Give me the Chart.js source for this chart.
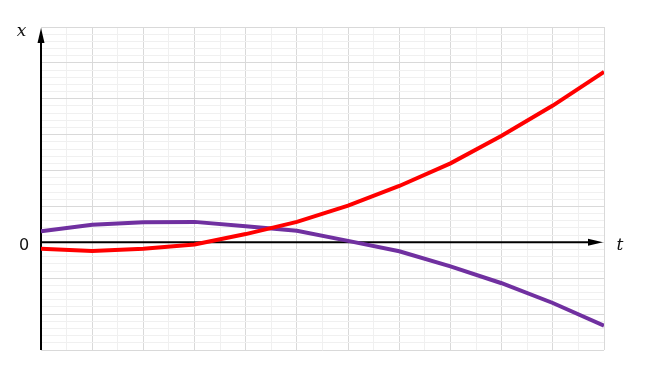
<!DOCTYPE html>
<html>
<head>
<meta charset="utf-8">
<script src="https://cdn.jsdelivr.net/npm/chart.js@4"></script>
<style>
  html, body { margin: 0; padding: 0; background: #fff; }
  #wrap { width: 654px; height: 390px; }
</style>
</head>
<body>
<div id="wrap"><canvas id="chart" width="654" height="390"></canvas></div>
<script>
// time steps (x axis) and the two curves
const tValues = [0, 1, 2, 3, 4, 5, 6, 7, 8, 9, 10, 11];
const redValues = [-0.18, -0.24, -0.18, -0.06, 0.23, 0.57, 1.02, 1.57, 2.2, 2.97, 3.81, 4.75];
const purpleValues = [0.31, 0.49, 0.56, 0.57, 0.45, 0.32, 0.04, -0.25, -0.67, -1.14, -1.69, -2.32];

const xMin = 0, xMax = 11, xStep = 0.5;
const yMin = -3, yMax = 6, yStep = 0.2;

const isMajor = v => Math.abs(v - Math.round(v)) < 1e-6;
const gridColor = ctx => isMajor(ctx.tick.value) ? '#d9d9d9' : '#f0f0f0';

const toPoints = ys => tValues.map((t, i) => ({ x: t, y: ys[i] }));

// axes with arrows + labels, drawn under the curves
const axesPlugin = {
  id: 'axes',
  beforeDatasetsDraw(chart) {
    const { ctx, scales: { x, y }, chartArea } = chart;
    const x0 = x.getPixelForValue(0);
    const y0 = y.getPixelForValue(0);
    const xEnd = x.getPixelForValue(xMax);
    const yTop = y.getPixelForValue(yMax);

    ctx.save();
    ctx.strokeStyle = '#000';
    ctx.fillStyle = '#000';
    ctx.lineWidth = 2;

    // vertical axis
    ctx.beginPath();
    ctx.moveTo(x0, chartArea.bottom);
    ctx.lineTo(x0, yTop + 10);
    ctx.stroke();
    ctx.beginPath();
    ctx.moveTo(x0, yTop + 1);
    ctx.lineTo(x0 - 3.5, yTop + 16);
    ctx.lineTo(x0 + 3.5, yTop + 16);
    ctx.closePath();
    ctx.fill();

    // horizontal axis
    ctx.beginPath();
    ctx.moveTo(x0, y0);
    ctx.lineTo(xEnd - 10, y0);
    ctx.stroke();
    ctx.beginPath();
    ctx.moveTo(xEnd - 1, y0);
    ctx.lineTo(xEnd - 16, y0 - 3.5);
    ctx.lineTo(xEnd - 16, y0 + 3.5);
    ctx.closePath();
    ctx.fill();

    // labels
    ctx.textAlign = 'center';
    ctx.textBaseline = 'middle';
    ctx.fillStyle = '#111';
    ctx.font = 'italic 17px "DejaVu Serif"';
    ctx.fillText('x', 21.5, 31.5);
    ctx.fillText('t', 620, 245.5);
    ctx.font = '16px "DejaVu Sans"';
    ctx.fillText('0', 24, y0 + 3.5);
    ctx.restore();
  }
};

new Chart(document.getElementById('chart'), {
  type: 'line',
  data: {
    datasets: [
      {
        label: 'red',
        data: toPoints(redValues),
        borderColor: '#ff0000',
        borderWidth: 4,
        pointRadius: 0,
        tension: 0
      },
      {
        label: 'purple',
        data: toPoints(purpleValues),
        borderColor: '#7030a0',
        borderWidth: 4,
        pointRadius: 0,
        tension: 0
      }
    ]
  },
  options: {
    responsive: false,
    animation: false,
    layout: { padding: { left: 41, right: 50, top: 27, bottom: 40 } },
    plugins: { legend: { display: false }, tooltip: { enabled: false } },
    scales: {
      x: {
        type: 'linear',
        min: xMin, max: xMax,
        ticks: { display: false, stepSize: xStep },
        grid: { color: gridColor, drawTicks: false, lineWidth: 1 },
        border: { display: false }
      },
      y: {
        type: 'linear',
        min: yMin, max: yMax,
        ticks: { display: false, stepSize: yStep },
        grid: { color: gridColor, drawTicks: false, lineWidth: 1 },
        border: { display: false }
      }
    }
  },
  plugins: [axesPlugin]
});
</script>
</body>
</html>
